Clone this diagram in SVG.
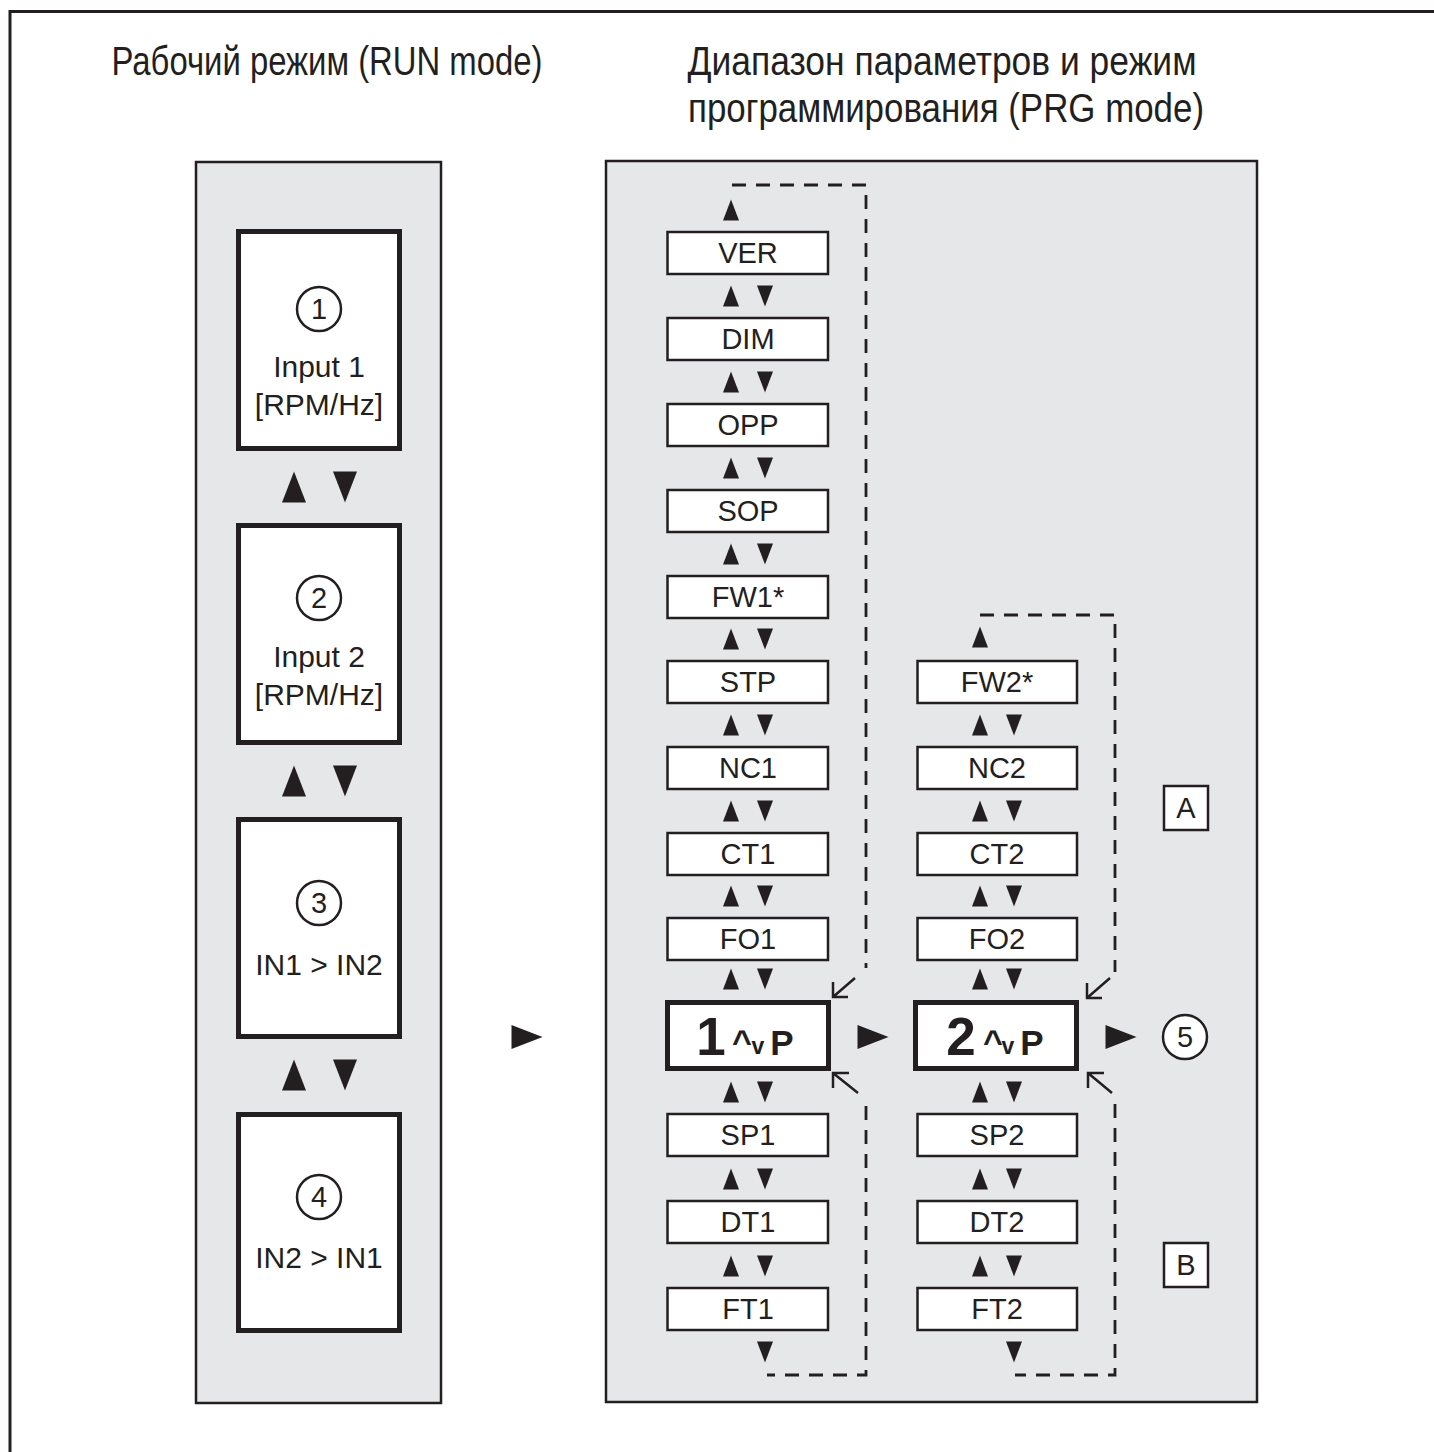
<svg xmlns="http://www.w3.org/2000/svg" width="1434" height="1452" viewBox="0 0 1434 1452">
<defs>
<style>
.t{font-family:"Liberation Sans",Arial,sans-serif;fill:#231f20;text-anchor:middle}
.title{font-size:40px}
.lbl{font-size:29px}
.big{font-size:30px}
.panel{fill:#e6e7e8;stroke:#231f20;stroke-width:2.5}
.box{fill:#fff;stroke:#231f20;stroke-width:2.5}
.thick{fill:#fff;stroke:#231f20;stroke-width:5}
.circ{fill:#fff;stroke:#231f20;stroke-width:2.5}
.dash{fill:none;stroke:#231f20;stroke-width:2.8;stroke-dasharray:14 10}
.ln{fill:none;stroke:#231f20;stroke-width:2.5}
.tri{fill:#231f20}
.bold{font-weight:bold}
</style>
<path id="up" class="tri" d="M0,-10.5 L8,10.5 L-8,10.5 Z"/>
<path id="dn" class="tri" d="M-8,-10.5 L8,-10.5 L0,10.5 Z"/>
<path id="UP" class="tri" d="M0,-15.5 L12,15.5 L-12,15.5 Z"/>
<path id="DN" class="tri" d="M-12,-15.5 L12,-15.5 L0,15.5 Z"/>
<path id="rt" class="tri" d="M-15.5,-12 L15.5,0 L-15.5,12 Z"/>
</defs>
<rect width="1434" height="1452" fill="#fff"/>
<path d="M10,1452 V11.5 H1434" fill="none" stroke="#231f20" stroke-width="3"/>

<g id="titles">
<text class="t title" x="327" y="75" textLength="431" lengthAdjust="spacingAndGlyphs">Рабочий режим (RUN mode)</text>
<text class="t title" x="942" y="75" textLength="509" lengthAdjust="spacingAndGlyphs">Диапазон параметров и режим</text>
<text class="t title" x="946" y="122" textLength="516" lengthAdjust="spacingAndGlyphs">программирования (PRG mode)</text>
</g>

<g id="panels">
<rect class="panel" x="196" y="162" width="245" height="1241"/>
<rect class="panel" x="606" y="161" width="651" height="1241"/>
</g>

<g id="run1">
<rect class="thick" x="238.5" y="231.5" width="161" height="217"/>
<circle class="circ" cx="319" cy="309" r="22"/>
<text class="t lbl" x="319" y="319">1</text>
<text class="t big" x="319" y="377">Input 1</text>
<text class="t big" x="319" y="415">[RPM/Hz]</text>
</g>
<g id="run2">
<rect class="thick" x="238.5" y="525.5" width="161" height="217"/>
<circle class="circ" cx="319" cy="598" r="22"/>
<text class="t lbl" x="319" y="608">2</text>
<text class="t big" x="319" y="667">Input 2</text>
<text class="t big" x="319" y="705">[RPM/Hz]</text>
</g>
<g id="run3">
<rect class="thick" x="238.5" y="819.5" width="161" height="217"/>
<circle class="circ" cx="319" cy="903" r="22"/>
<text class="t lbl" x="319" y="913">3</text>
<text class="t big" x="319" y="975">IN1 &gt; IN2</text>
</g>
<g id="run4">
<rect class="thick" x="238.5" y="1114.5" width="161" height="216"/>
<circle class="circ" cx="319" cy="1197" r="22"/>
<text class="t lbl" x="319" y="1207">4</text>
<text class="t big" x="319" y="1268">IN2 &gt; IN1</text>
</g>

<g id="col1">
<g id="n-ver"><rect class="box" x="667.5" y="232" width="160.5" height="42"/><text class="t lbl" x="748" y="263">VER</text></g>
<g id="n-dim"><rect class="box" x="667.5" y="318" width="160.5" height="42"/><text class="t lbl" x="748" y="349">DIM</text></g>
<g id="n-opp"><rect class="box" x="667.5" y="404" width="160.5" height="42"/><text class="t lbl" x="748" y="435">OPP</text></g>
<g id="n-sop"><rect class="box" x="667.5" y="490" width="160.5" height="42"/><text class="t lbl" x="748" y="521">SOP</text></g>
<g id="n-fw1"><rect class="box" x="667.5" y="576" width="160.5" height="42"/><text class="t lbl" x="748" y="607">FW1*</text></g>
<g id="n-stp"><rect class="box" x="667.5" y="661" width="160.5" height="42"/><text class="t lbl" x="748" y="692">STP</text></g>
<g id="n-nc1"><rect class="box" x="667.5" y="747" width="160.5" height="42"/><text class="t lbl" x="748" y="778">NC1</text></g>
<g id="n-ct1"><rect class="box" x="667.5" y="833" width="160.5" height="42"/><text class="t lbl" x="748" y="864">CT1</text></g>
<g id="n-fo1"><rect class="box" x="667.5" y="918" width="160.5" height="42"/><text class="t lbl" x="748" y="949">FO1</text></g>
<g id="n-1p"><rect class="thick" x="667.5" y="1002.5" width="161" height="66"/>
<text class="t bold" x="711" y="1055" font-size="53">1</text>
<text class="t bold" x="742" y="1053" font-size="34">^</text>
<text class="t bold" x="758" y="1054" font-size="23">v</text>
<text class="t bold" x="782" y="1055" font-size="35">P</text></g>
<g id="n-sp1"><rect class="box" x="667.5" y="1114" width="160.5" height="42"/><text class="t lbl" x="748" y="1145">SP1</text></g>
<g id="n-dt1"><rect class="box" x="667.5" y="1201" width="160.5" height="42"/><text class="t lbl" x="748" y="1232">DT1</text></g>
<g id="n-ft1"><rect class="box" x="667.5" y="1288" width="160.5" height="42"/><text class="t lbl" x="748" y="1319">FT1</text></g>
</g>

<g id="col2">
<g id="n-fw2"><rect class="box" x="917.5" y="661" width="159.5" height="42"/><text class="t lbl" x="997" y="692">FW2*</text></g>
<g id="n-nc2"><rect class="box" x="917.5" y="747" width="159.5" height="42"/><text class="t lbl" x="997" y="778">NC2</text></g>
<g id="n-ct2"><rect class="box" x="917.5" y="833" width="159.5" height="42"/><text class="t lbl" x="997" y="864">CT2</text></g>
<g id="n-fo2"><rect class="box" x="917.5" y="918" width="159.5" height="42"/><text class="t lbl" x="997" y="949">FO2</text></g>
<g id="n-2p"><rect class="thick" x="915.5" y="1002.5" width="161" height="66"/>
<text class="t bold" x="961" y="1055" font-size="53">2</text>
<text class="t bold" x="993" y="1053" font-size="34">^</text>
<text class="t bold" x="1008" y="1054" font-size="23">v</text>
<text class="t bold" x="1032" y="1055" font-size="35">P</text></g>
<g id="n-sp2"><rect class="box" x="917.5" y="1114" width="159.5" height="42"/><text class="t lbl" x="997" y="1145">SP2</text></g>
<g id="n-dt2"><rect class="box" x="917.5" y="1201" width="159.5" height="42"/><text class="t lbl" x="997" y="1232">DT2</text></g>
<g id="n-ft2"><rect class="box" x="917.5" y="1288" width="159.5" height="42"/><text class="t lbl" x="997" y="1319">FT2</text></g>
</g>

<g id="markers">
<g id="n-A"><rect class="box" x="1164" y="786" width="44" height="44"/><text class="t lbl" x="1186" y="818">A</text></g>
<g id="n-B"><rect class="box" x="1164" y="1243" width="44" height="44"/><text class="t lbl" x="1186" y="1275">B</text></g>
<g id="n-5"><circle class="circ" cx="1185" cy="1037" r="22"/><text class="t lbl" x="1185" y="1047">5</text></g>
</g>

<g id="connectors">
<use href="#UP" x="294" y="487"/><use href="#DN" x="345" y="487"/>
<use href="#UP" x="294" y="781"/><use href="#DN" x="345" y="781"/>
<use href="#UP" x="294" y="1075"/><use href="#DN" x="345" y="1075"/>

<use href="#up" x="731" y="210"/>
<use href="#up" x="731" y="296"/><use href="#dn" x="765" y="296"/>
<use href="#up" x="731" y="382"/><use href="#dn" x="765" y="382"/>
<use href="#up" x="731" y="468"/><use href="#dn" x="765" y="468"/>
<use href="#up" x="731" y="554"/><use href="#dn" x="765" y="554"/>
<use href="#up" x="731" y="639"/><use href="#dn" x="765" y="639"/>
<use href="#up" x="731" y="725"/><use href="#dn" x="765" y="725"/>
<use href="#up" x="731" y="811"/><use href="#dn" x="765" y="811"/>
<use href="#up" x="731" y="896"/><use href="#dn" x="765" y="896"/>
<use href="#up" x="731" y="979"/><use href="#dn" x="765" y="979"/>
<use href="#up" x="731" y="1092"/><use href="#dn" x="765" y="1092"/>
<use href="#up" x="731" y="1179"/><use href="#dn" x="765" y="1179"/>
<use href="#up" x="731" y="1266"/><use href="#dn" x="765" y="1266"/>
<use href="#dn" x="765" y="1352"/>

<use href="#up" x="980" y="637"/>
<use href="#up" x="980" y="725"/><use href="#dn" x="1014" y="725"/>
<use href="#up" x="980" y="811"/><use href="#dn" x="1014" y="811"/>
<use href="#up" x="980" y="896"/><use href="#dn" x="1014" y="896"/>
<use href="#up" x="980" y="979"/><use href="#dn" x="1014" y="979"/>
<use href="#up" x="980" y="1092"/><use href="#dn" x="1014" y="1092"/>
<use href="#up" x="980" y="1179"/><use href="#dn" x="1014" y="1179"/>
<use href="#up" x="980" y="1266"/><use href="#dn" x="1014" y="1266"/>
<use href="#dn" x="1014" y="1352"/>

<use href="#rt" x="527" y="1037"/>
<use href="#rt" x="873" y="1037"/>
<use href="#rt" x="1121" y="1037"/>

<path class="dash" d="M732,185 H866 V968"/>
<path class="dash" d="M866,1106 V1375 H767"/>
<path class="dash" d="M980,615 H1115 V972"/>
<path class="dash" d="M1115,1104 V1375 H1015"/>

<path class="ln" d="M855,978 L833,997 M848,997 H833 V982"/>
<path class="ln" d="M858,1093 L833,1073 M849,1073 H833 V1088"/>
<path class="ln" d="M1110,978 L1087,998 M1102,998 H1087 V983"/>
<path class="ln" d="M1112,1093 L1088,1073 M1104,1073 H1088 V1088"/>
</g>
</svg>
